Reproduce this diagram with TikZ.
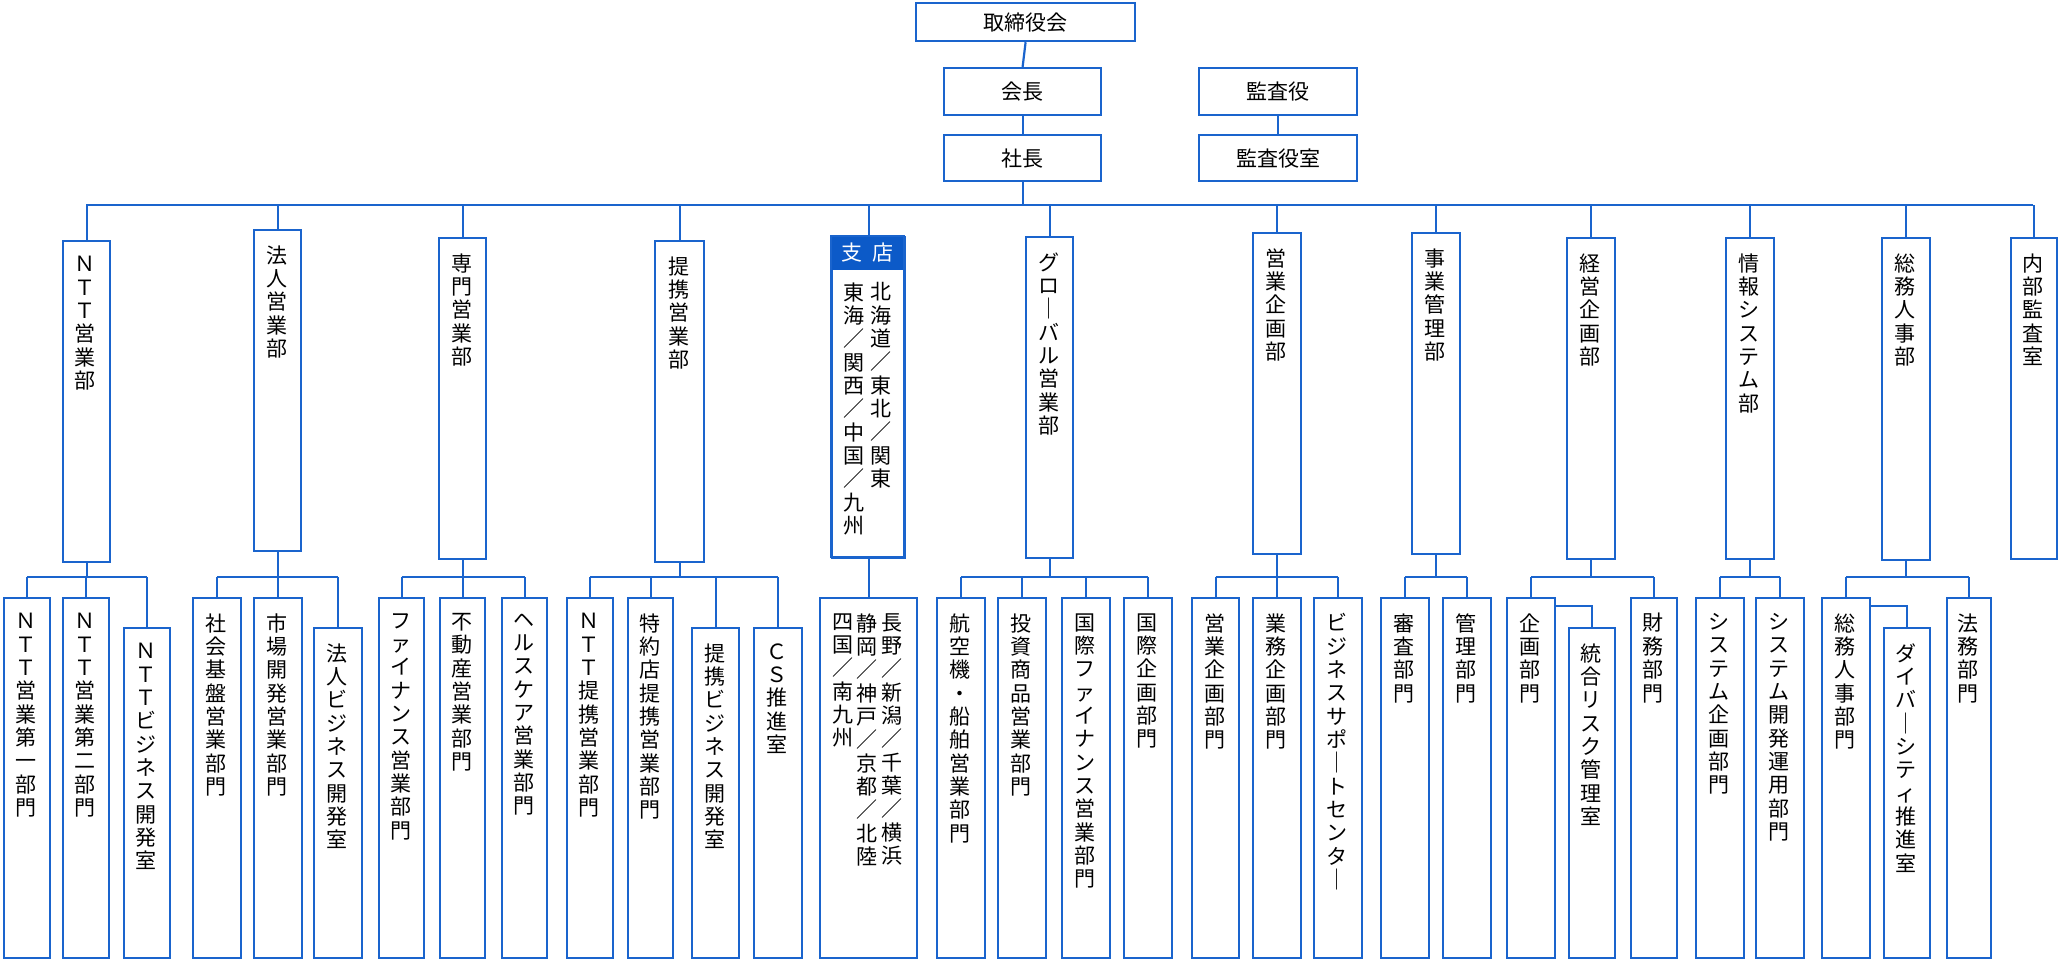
\documentclass[tikz,border=0pt]{standalone}
\usepackage{fontspec}
\setmainfont{Noto Sans CJK JP}
\definecolor{lb}{RGB}{26,100,205}
\definecolor{hb}{RGB}{12,90,200}
\makeatletter
\newcommand\V[1]{\gdef\vacc{}\@tfor\vc:=#1\do{\ifx\vacc\empty\else\g@addto@macro\vacc{\\}\fi\expandafter\g@addto@macro\expandafter\vacc\expandafter{\vc}}\vacc}
\makeatother
\tikzset{
  box/.style={draw=lb,line width=1.1pt,fill=white,inner sep=0pt,anchor=north west},
  vtext/.style={anchor=north,align=center,inner sep=0pt,font=\fontsize{10.5}{11.67}\selectfont},
  htext/.style={inner sep=0pt,font=\fontsize{10.5}{12}\selectfont},
  conn/.style={draw=lb,line width=1.1pt}
}
% \bx{name}{x1}{y1}{x2}{y2}
\newcommand\bx[5]{\node[box,minimum width={(#4-#2)*0.5pt},minimum height={(#5-#3)*0.5pt}] (#1) at (#2,#3) {};}
% box with vertical text
\newcommand\vb[6]{\bx{#1}{#2}{#3}{#4}{#5}\node[vtext] (#1t) at ({(#2+#4)/2},{#3+16}) {\V{#6}};}
\begin{document}
\begin{tikzpicture}[x=0.5pt,y=-0.5pt]
\useasboundingbox (0,0) rectangle (2058,960);
% top
\bx{tori}{915}{2}{1134}{40}\node[htext] (torit) at (tori) {取締役会};
\bx{kaicho}{943}{67}{1100}{114}\node[htext] (kaichot) at (kaicho) {会長};
\bx{shacho}{943}{134}{1100}{180}\node[htext] (shachot) at (shacho) {社長};
\bx{kansa}{1198}{67}{1356}{114}\node[htext] (kansat) at (kansa) {監査役};
\bx{kansas}{1198}{134}{1356}{180}\node[htext] (kansast) at (kansas) {監査役室};
\draw[conn] (tori.south) -- (kaicho.north);
\draw[conn] (kaicho.south) -- (shacho.north);
\draw[conn] (kansa.south) -- (kansas.north);
% bus
\coordinate (busL) at (86,205);
\coordinate (busR) at (2033,205);
\draw[conn] (shacho.south) -- (shacho.south |- busL);
\draw[conn] (busL) -- (busR);
% middle row
\vb{m1}{62}{240}{109}{561}{ＮＴＴ営業部}
\vb{m2}{253}{229}{300}{550}{法人営業部}
\vb{m3}{438}{237}{485}{558}{専門営業部}
\vb{m4}{654}{240}{703}{561}{提携営業部}
\bx{m5}{831}{236}{904}{557}
\fill[hb] (831,236) rectangle (904,270);
\draw[draw=lb,line width=1.1pt] (831,236) rectangle (904,557);
\node[htext,text=white] (m5h) at (867.5,253) {支\hspace{5pt}店};
\node[vtext] (m5a) at (881,282) {\V{北海道／東北／関東}};
\node[vtext] (m5b) at (854,282) {\V{東海／関西／中国／九州}};
\vb{m6}{1025}{236}{1072}{557}{グロ｜バル営業部}
\vb{m7}{1252}{232}{1300}{553}{営業企画部}
\vb{m8}{1411}{232}{1459}{553}{事業管理部}
\vb{m9}{1566}{237}{1614}{558}{経営企画部}
\vb{m10}{1725}{237}{1773}{558}{情報システム部}
\vb{m11}{1881}{237}{1929}{559}{総務人事部}
\vb{m12}{2010}{237}{2056}{558}{内部監査室}
\foreach \m in {m1,m2,m3,m4,m5,m6,m7,m8,m9,m10,m11,m12}{
  \draw[conn] (\m.north) -- (\m.north |- busL);
}
% bottom row
\coordinate (sb) at (0,577);
\coordinate (sb2) at (0,574);
% NTT
\vb{a1}{3}{597}{49}{957}{ＮＴＴ営業第一部門}
\vb{a2}{62}{597}{108}{957}{ＮＴＴ営業第二部門}
\vb{a3}{123}{627}{169}{957}{ＮＴＴビジネス開発室}
% 法人
\vb{b1}{192}{597}{240}{957}{社会基盤営業部門}
\vb{b2}{253}{597}{301}{957}{市場開発営業部門}
\vb{b3}{313}{627}{361}{957}{法人ビジネス開発室}
% 専門
\vb{c1}{378}{597}{423}{957}{ファイナンス営業部門}
\vb{c2}{439}{597}{484}{957}{不動産営業部門}
\vb{c3}{501}{597}{546}{957}{ヘルスケア営業部門}
% 提携
\vb{d1}{566}{597}{612}{957}{ＮＴＴ提携営業部門}
\vb{d2}{627}{597}{672}{957}{特約店提携営業部門}
\vb{d3}{691}{627}{738}{957}{提携ビジネス開発室}
\vb{d4}{753}{627}{801}{957}{ＣＳ推進室}
% 支店
\bx{e1}{819}{597}{916}{957}
\node[vtext] (e1a) at (892,613) {\V{長野／新潟／千葉／横浜}};
\node[vtext] (e1b) at (867,613) {\V{静岡／神戸／京都／北陸}};
\node[vtext] (e1c) at (843,613) {\V{四国／南九州}};
% グローバル
\vb{f1}{936}{597}{984}{957}{航空機・船舶営業部門}
\vb{f2}{997}{597}{1045}{957}{投資商品営業部門}
\vb{f3}{1061}{597}{1109}{957}{国際ファイナンス営業部門}
\vb{f4}{1123}{597}{1171}{957}{国際企画部門}
% 営業企画
\vb{g1}{1191}{597}{1238}{957}{営業企画部門}
\vb{g2}{1252}{597}{1300}{957}{業務企画部門}
\vb{g3}{1313}{597}{1361}{957}{ビジネスサポ｜トセンタ｜}
% 事業管理
\vb{h1}{1380}{597}{1428}{957}{審査部門}
\vb{h2}{1442}{597}{1490}{957}{管理部門}
% 経営
\vb{i1}{1506}{597}{1554}{957}{企画部門}
\vb{i2}{1568}{627}{1614}{957}{統合リスク管理室}
\vb{i3}{1630}{597}{1676}{957}{財務部門}
% 情報
\vb{j1}{1695}{597}{1743}{957}{システム企画部門}
\vb{j2}{1755}{597}{1803}{957}{システム開発運用部門}
% 総務
\vb{k1}{1821}{597}{1869}{957}{総務人事部門}
\vb{k2}{1883}{627}{1929}{957}{ダイバ｜シティ推進室}
\vb{k3}{1946}{597}{1990}{957}{法務部門}
% sub-bus connectors
\foreach \p/\l/\r/\kids in {m1/a1/a3/{a1,a2,a3}, m2/b1/b3/{b1,b2,b3}, m3/c1/c3/{c1,c2,c3}, m4/d1/d4/{d1,d2,d3,d4}, m6/f1/f4/{f1,f2,f3,f4}, m7/g1/g3/{g1,g2,g3}, m8/h1/h2/{h1,h2}, m9/i1/i3/{i1,i3}, m10/j1/j2/{j1,j2}, m11/k1/k3/{k1,k3}}{
  \draw[conn] (\p.south) -- (\p.south |- sb);
  \draw[conn] (\l.north |- sb) -- (\r.north |- sb);
  \foreach \c in \kids { \draw[conn] (\c.north) -- (\c.north |- sb); }
}
\draw[conn] (m5.south) -- (e1.north);
\draw[conn] (i1.east |- 0,606) -| (i2.north);
\draw[conn] (k1.east |- 0,606) -| (k2.north);
\end{tikzpicture}
\end{document}
